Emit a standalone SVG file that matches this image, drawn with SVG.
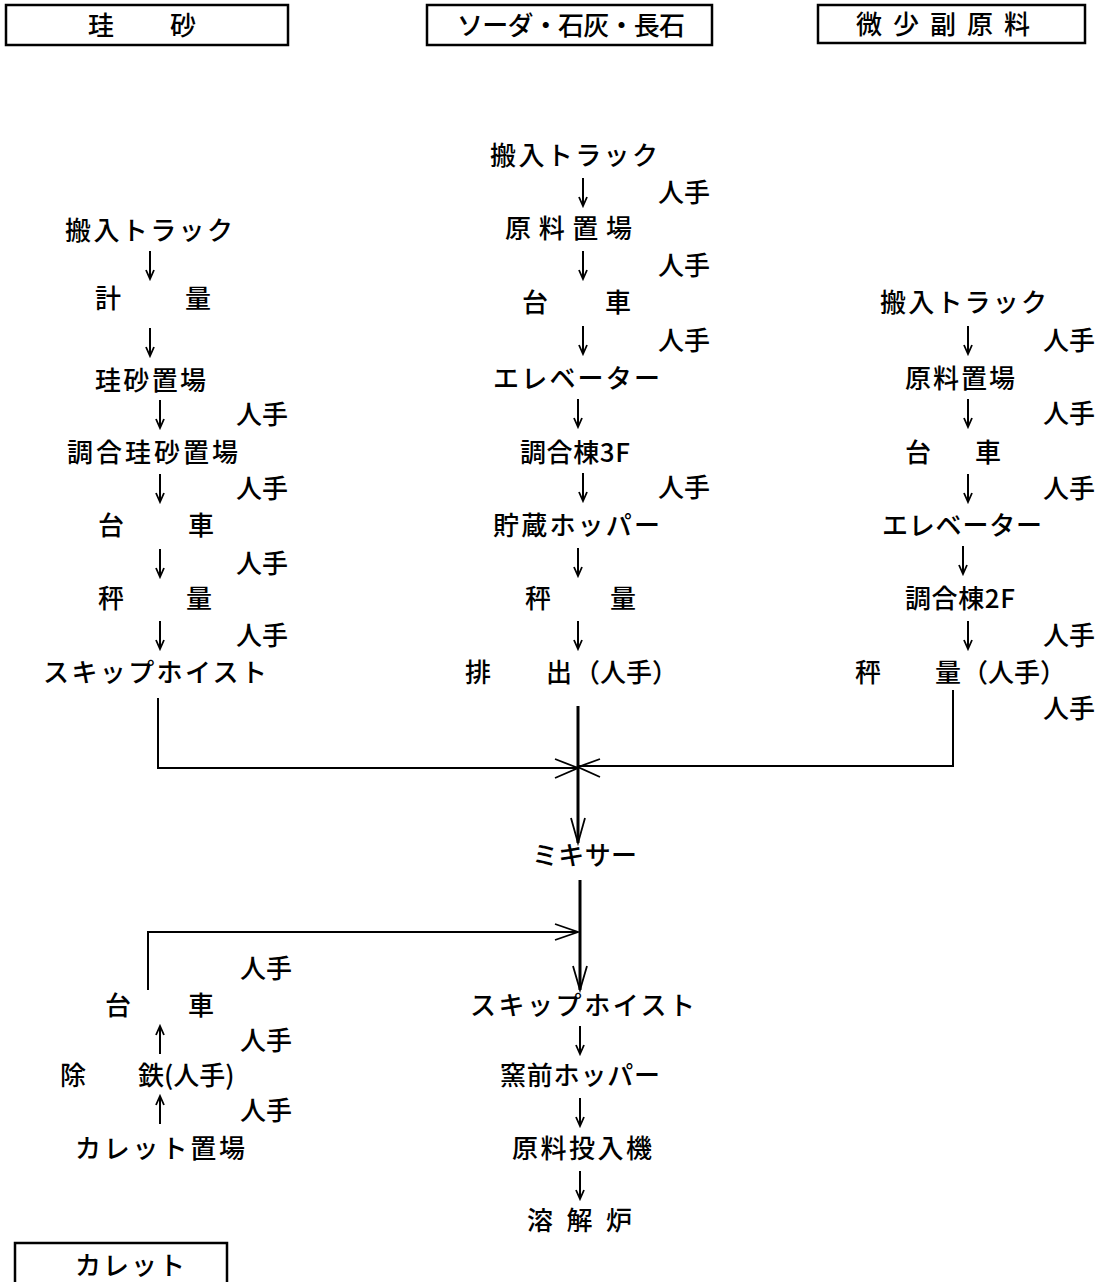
<svg xmlns="http://www.w3.org/2000/svg" width="1101" height="1282" viewBox="0 0 1101 1282">
<style>
text{font-family:"Noto Sans CJK JP","Noto Sans CJK SC",sans-serif;font-size:26px;fill:#000;font-weight:500}
.hb{fill:none;stroke:#000;stroke-width:2.5}
.ln{fill:none;stroke:#000;stroke-width:2}
.th{fill:none;stroke:#000;stroke-width:3}
.ah{fill:none;stroke:#000;stroke-width:1.8}
.sa{fill:none;stroke:#000;stroke-width:2;marker-end:url(#sh)}
</style>
<defs>
<marker id="sh" markerWidth="12" markerHeight="12" refX="10" refY="6" orient="auto" markerUnits="userSpaceOnUse">
<path d="M1,2 L10,6 L1,10" fill="none" stroke="#000" stroke-width="1.8"/>
</marker>
</defs>
<rect width="1101" height="1282" fill="#fff"/>
<g id="hdr-keisa"><rect class="hb" x="6" y="5" width="282" height="40"/><text y="35"><tspan x="88">珪</tspan><tspan x="170">砂</tspan></text></g>
<g id="hdr-soda"><rect class="hb" x="427" y="5" width="285" height="40"/><text x="457" y="35" textLength="228">ソーダ・石灰・長石</text></g>
<g id="hdr-bisho"><rect class="hb" x="818" y="5" width="267" height="38"/><text x="856" y="34" textLength="174">微少副原料</text></g>

<g id="left-col">
<text x="65" y="240" textLength="168">搬入トラック</text>
<text y="308"><tspan x="95">計</tspan><tspan x="185">量</tspan></text>
<text x="95" y="390" textLength="111">珪砂置場</text>
<text x="236" y="424">人手</text>
<text x="67" y="462" textLength="171">調合珪砂置場</text>
<text x="236" y="498">人手</text>
<text y="535"><tspan x="98">台</tspan><tspan x="188">車</tspan></text>
<text x="236" y="573">人手</text>
<text y="608"><tspan x="98">秤</tspan><tspan x="186">量</tspan></text>
<text x="236" y="645">人手</text>
<text x="43" y="682" textLength="224">スキップホイスト</text>
</g>

<g id="mid-col">
<text x="490" y="165" textLength="168">搬入トラック</text>
<text x="658" y="202">人手</text>
<text x="505" y="238" textLength="127">原料置場</text>
<text x="658" y="275">人手</text>
<text y="312"><tspan x="522">台</tspan><tspan x="605">車</tspan></text>
<text x="658" y="350">人手</text>
<text x="493" y="388" textLength="167">エレベーター</text>
<text x="520" y="462" textLength="110">調合棟3F</text>
<text x="658" y="497">人手</text>
<text x="493" y="535" textLength="167">貯蔵ホッパー</text>
<text y="608"><tspan x="525">秤</tspan><tspan x="610">量</tspan></text>
<text y="682"><tspan x="465">排</tspan><tspan x="546">出</tspan><tspan x="574">（人手）</tspan></text>
</g>

<g id="right-col">
<text x="880" y="312" textLength="167">搬入トラック</text>
<text x="1043" y="350">人手</text>
<text x="905" y="388" textLength="110">原料置場</text>
<text x="1043" y="423">人手</text>
<text y="462"><tspan x="905">台</tspan><tspan x="975">車</tspan></text>
<text x="1043" y="498">人手</text>
<text x="882" y="535" textLength="160">エレベーター</text>
<text x="905" y="608" textLength="110">調合棟2F</text>
<text x="1043" y="645">人手</text>
<text y="682"><tspan x="855">秤</tspan><tspan x="935">量</tspan><tspan x="962">（人手）</tspan></text>
<text x="1043" y="718">人手</text>
</g>

<g id="mixer"><text x="532" y="865" textLength="105">ミキサー</text></g>

<g id="cullet-col">
<text x="240" y="978">人手</text>
<text y="1015"><tspan x="105">台</tspan><tspan x="188">車</tspan></text>
<text x="240" y="1050">人手</text>
<text y="1085"><tspan x="60">除</tspan><tspan x="138">鉄(人手)</tspan></text>
<text x="240" y="1120">人手</text>
<text x="75" y="1158" textLength="170">カレット置場</text>
</g>

<g id="furnace-col">
<text x="470" y="1015" textLength="225">スキップホイスト</text>
<text x="500" y="1085" textLength="160">窯前ホッパー</text>
<text x="512" y="1158" textLength="140">原料投入機</text>
<text x="527" y="1230" textLength="105">溶 解 炉</text>
</g>

<g id="hdr-cullet"><path class="hb" d="M15,1290 V1243 H227 V1290"/><text x="75" y="1275" textLength="110">カレット</text></g>

<g id="step-arrows">
<path class="sa" d="M150,251 V279"/>
<path class="sa" d="M150,328 V356"/>
<path class="sa" d="M160,400 V428"/>
<path class="sa" d="M160,474 V502"/>
<path class="sa" d="M160,549 V577"/>
<path class="sa" d="M160,621 V649"/>
<path class="sa" d="M583,178 V206"/>
<path class="sa" d="M583,251 V279"/>
<path class="sa" d="M583,326 V354"/>
<path class="sa" d="M578,399 V427"/>
<path class="sa" d="M583,473 V501"/>
<path class="sa" d="M578,548 V576"/>
<path class="sa" d="M578,621 V649"/>
<path class="sa" d="M968,326 V354"/>
<path class="sa" d="M968,399 V427"/>
<path class="sa" d="M968,474 V502"/>
<path class="sa" d="M963,546 V574"/>
<path class="sa" d="M968,621 V649"/>
<path class="sa" d="M580,1026 V1054"/>
<path class="sa" d="M580,1098 V1126"/>
<path class="sa" d="M580,1171 V1199"/>
<path class="sa" d="M160,1054 V1026"/>
<path class="sa" d="M160,1124 V1096"/>
</g>

<g id="connectors">
<path class="ln" d="M158,698 V768 H578"/>
<path class="ln" d="M953,690 V766 H578"/>
<path class="th" d="M578,706 V843"/>
<path class="ah" d="M555,759 L578,768 L555,778"/>
<path class="ah" d="M600,759 L578,767 L600,777"/>
<path class="ah" d="M571,818 L578,843 L585,818"/>
<path class="th" d="M580,880 V990"/>
<path class="ah" d="M573,966 L580,990 L587,966"/>
<path class="ln" d="M148,990 V932 H578"/>
<path class="ah" d="M555,924 L578,932 L555,940"/>
</g>
</svg>
